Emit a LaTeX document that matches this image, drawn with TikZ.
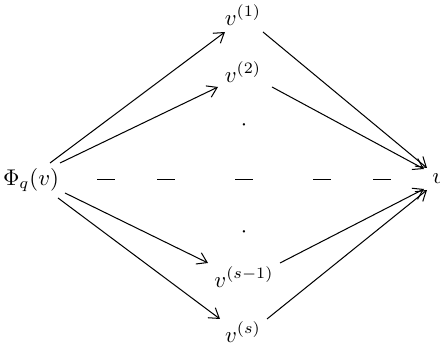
\documentclass[tikz,border=0pt]{standalone}
\usetikzlibrary{arrows.meta}
\begin{document}
\begin{tikzpicture}[x=0.44pt,y=-0.44pt,
  lbl/.style={inner sep=0pt},
  arr/.style={line width=0.45pt,-{Straight Barb[length=4.2pt,width=5.5pt]}},
  dsh/.style={line width=0.35pt}]
\useasboundingbox (0,0) rectangle (440,345);
\node[lbl] (phi) at (31,180) {$\Phi_q(v)$};
\node[lbl] (v1) at (243,15) {$v^{(1)}$};
\node[lbl] (v2) at (243,72) {$v^{(2)}$};
\node[lbl] (d1) at (244,125) {$\cdot$};
\node[lbl] (d2) at (244,232) {$\cdot$};
\node[lbl] (vs1) at (244,277) {$v^{(s-1)}$};
\node[lbl] (vs) at (243,332) {$v^{(s)}$};
\node[lbl,anchor=west] (v) at (432,179) {$v$};
% connector end points
\coordinate (a1) at (50,163);
\coordinate (a2) at (60,163);
\coordinate (a3) at (65,193);
\coordinate (a4) at (58,198);
\coordinate (h1) at (225,32);
\coordinate (h2) at (218,87);
\coordinate (h3) at (208,263);
\coordinate (h4) at (220,319);
\coordinate (b1) at (263,32);
\coordinate (b2) at (272,87);
\coordinate (b3) at (280,263);
\coordinate (b4) at (267,319);
\coordinate (e1) at (427,168);
\coordinate (e2) at (424,169);
\coordinate (e3) at (424,189);
\coordinate (e4) at (427,190);
\draw[arr] (a1) -- (h1);
\draw[arr] (a2) -- (h2);
\draw[arr] (a3) -- (h3);
\draw[arr] (a4) -- (h4);
\draw[arr] (b1) -- (e1);
\draw[arr] (b2) -- (e2);
\draw[arr] (b3) -- (e3);
\draw[arr] (b4) -- (e4);
\foreach \s in {97,157,235,313,373}
  \draw[dsh] (\s,179.5) -- ++(18,0);
\end{tikzpicture}
\end{document}
